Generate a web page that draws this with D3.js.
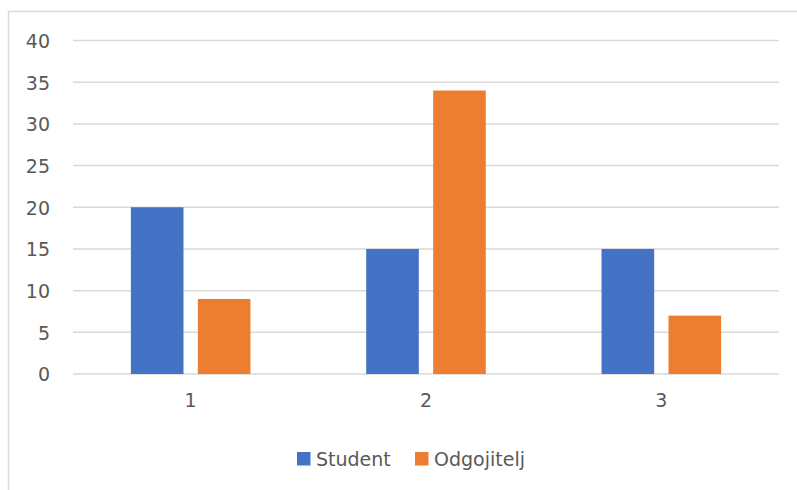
<!DOCTYPE html>
<html><head><meta charset="utf-8">
<script src="https://cdn.jsdelivr.net/npm/d3@7"></script>
<style>html,body{margin:0;padding:0;background:#fff;}svg{display:block;}</style>
</head><body>
<script>
const categories = ["1", "2", "3"];
const seriesNames = ["Student", "Odgojitelj"];
const studentValues = [20, 15, 15];
const odgojiteljValues = [9, 34, 7];
const yTicks = [0, 5, 10, 15, 20, 25, 30, 35, 40];
const colors = ["#4472C4", "#ED7D31"];

const W = 797, H = 490;
const svg = d3.select("body").append("svg").attr("width", W).attr("height", H);
const font = "DejaVu Sans, sans-serif";
const textColor = "#595959";

svg.append("rect").attr("x", 8.5).attr("y", 11.5).attr("width", 800).attr("height", 500)
  .attr("fill", "none").attr("stroke", "#d9d9d9").attr("stroke-width", 1.5);

const x0 = d3.scaleBand().domain(categories).range([73, 779]).paddingInner(0).paddingOuter(0);
const y = d3.scaleLinear().domain([0, 40]).range([374, 40.5]);

// grid
svg.append("g").selectAll("line").data(yTicks).join("line")
  .attr("x1", 73).attr("x2", 779)
  .attr("y1", d => y(d)).attr("y2", d => y(d))
  .attr("stroke", "#d9d9d9").attr("stroke-width", 1.5);

// y labels
const yAxis = d3.axisLeft(y).tickValues(yTicks).tickSize(0).tickPadding(0);
const gy = svg.append("g").attr("transform", "translate(50,0)").call(yAxis);
gy.select(".domain").remove();
gy.selectAll("text").attr("font-family", font).attr("font-size", 19).attr("fill", textColor).attr("dy", "0.36em");

// x labels
const xAxis = d3.axisBottom(x0).tickSize(0).tickPadding(0);
const gx = svg.append("g").attr("transform", "translate(0,393)").call(xAxis);
gx.select(".domain").remove();
gx.selectAll("text").attr("font-family", font).attr("font-size", 19).attr("fill", textColor).attr("dy", "0.72em");

// bars
const bw = x0.bandwidth();
const barW = bw * 0.2236;
const gap = bw * 0.061;
const x1 = d3.scaleOrdinal().domain(seriesNames).range([
  (bw - 2 * barW - gap) / 2,
  (bw - 2 * barW - gap) / 2 + barW + gap
]);
const data = categories.map((c, i) => ({ c, vals: [studentValues[i], odgojiteljValues[i]] }));
const groups = svg.append("g").selectAll("g").data(data).join("g")
  .attr("transform", d => `translate(${x0(d.c)},0)`);
groups.selectAll("rect").data(d => d.vals.map((v, j) => ({ s: seriesNames[j], v, j })))
  .join("rect")
  .attr("x", d => x1(d.s)).attr("width", barW)
  .attr("y", d => y(d.v)).attr("height", d => y(0) - y(d.v))
  .attr("fill", d => colors[d.j]);

// legend
const legendX = [297, 415];
const lg = svg.append("g").selectAll("g").data(seriesNames).join("g")
  .attr("transform", (d, i) => `translate(${legendX[i]},452)`);
lg.append("rect").attr("width", 13.5).attr("height", 13.5).attr("fill", (d, i) => colors[i]);
lg.append("text").attr("x", 19).attr("y", 13.5).text(d => d)
  .attr("font-family", font).attr("font-size", 19).attr("fill", textColor);
</script>
</body></html>
